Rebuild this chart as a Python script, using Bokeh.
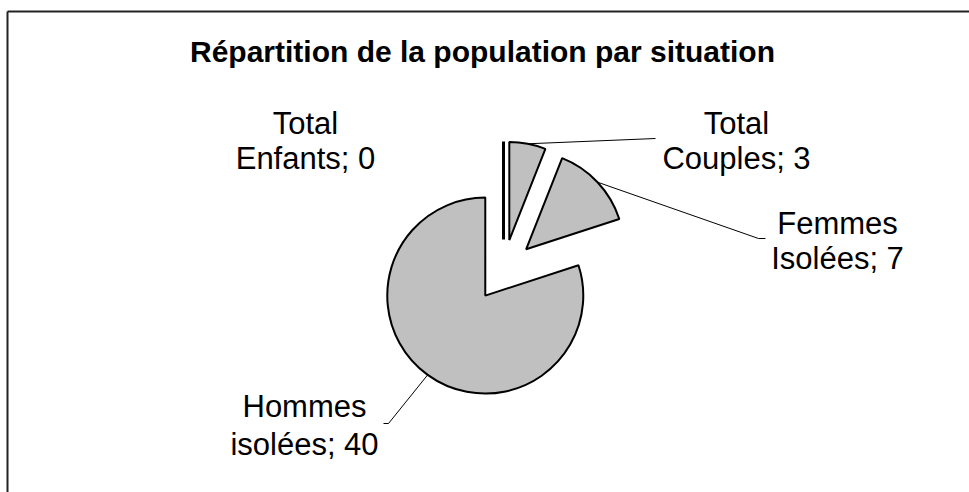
import math
from bokeh.plotting import figure
from bokeh.models import Range1d
from bokeh.core.properties import value
from bokeh.embed import file_html
from bokeh.resources import INLINE

# ---------------- data ----------------
title = "Répartition de la population par situation"
categories = ["Total Enfants", "Total Couples", "Femmes Isolées", "Hommes isolées"]
values = [0, 3, 7, 40]

# ---------------- layout (page pixels; data y = -page y) ----------------
CX, CY = 503, -270        # pie centre
R = 98                    # radius
EXPLODE = 31              # explosion distance
FONT = "Liberation Sans"
label_anchor = [(305, -123), (736, -123), (837, -223), (304, -406)]
label_gap = [35, 35, 35, 38]
leader_end = [None, [(655, -138)], [(758, -238), (765, -238)], [(388, -423), (383, -423)]]
FILL = "#C0C0C0"

p = figure(width=969, height=492, output_backend="svg", toolbar_location=None,
           x_range=Range1d(0, 969), y_range=Range1d(-492, 0),
           min_border=0, min_border_left=0, min_border_right=0,
           min_border_top=0, min_border_bottom=0)
p.axis.visible = False
p.grid.visible = False
p.outline_line_color = None
p.background_fill_color = "white"
p.border_fill_color = "white"

# chart-area border (top and left edges visible in reference)
p.line([7, 969], [-11, -11], line_color="#222222", line_width=2)
p.line([7, 7], [-11, -492], line_color="#222222", line_width=2)

total = float(sum(values))
cum = 0.0
for i, (cat, v) in enumerate(zip(categories, values)):
    a0 = 360.0 * cum / total
    cum += v
    a1 = 360.0 * cum / total
    bis = math.radians(90 - (a0 + a1) / 2)
    cx = CX + EXPLODE * math.cos(bis)
    cy = CY + EXPLODE * math.sin(bis)
    if v > 0:
        p.wedge(x=[cx], y=[cy], radius=R,
                start_angle=[math.radians(90 - a1)], end_angle=[math.radians(90 - a0)],
                direction="anticlock", fill_color=FILL, line_color="black", line_width=2)
    else:
        ang = math.radians(90 - a0)
        p.segment(x0=[cx], y0=[cy], x1=[cx + R * math.cos(ang)], y1=[cy + R * math.sin(ang)],
                  line_color="black", line_width=3)
    # leader line from mid-arc
    if leader_end[i]:
        xs = [cx + R * math.cos(bis)] + [pt[0] for pt in leader_end[i]]
        ys = [cy + R * math.sin(bis)] + [pt[1] for pt in leader_end[i]]
        p.line(xs, ys, line_color="black", line_width=1)
    # label
    label = f"{cat}; {v}"
    first, second = label.split(" ", 1)
    lx, ly = label_anchor[i]
    p.text(x=[lx, lx], y=[ly, ly - label_gap[i]], text=[first, second],
           text_font=value(FONT), text_font_size="31px", text_color="black",
           text_align="center", text_baseline="alphabetic")

p.text(x=[482], y=[-51], text=[title], text_font=value(FONT), text_font_size="30px",
       text_font_style="bold", text_color="black", text_align="center",
       text_baseline="alphabetic")

open("out.html", "w").write(file_html(p, INLINE))
